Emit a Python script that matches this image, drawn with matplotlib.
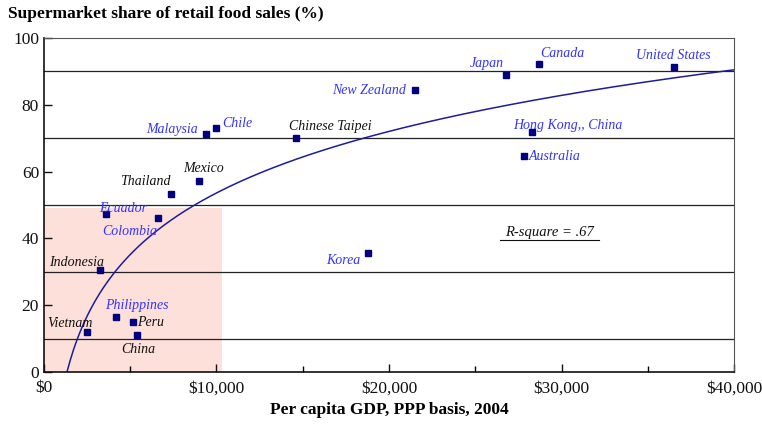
import matplotlib
matplotlib.use("Agg")
import matplotlib.pyplot as plt
import numpy as np
from matplotlib.patches import Rectangle

plt.rcParams['font.family'] = ['Liberation Serif', 'DejaVu Serif']

# per capita GDP (PPP, 2004) and supermarket share (%)
countries = ["Vietnam", "Indonesia", "Ecuador", "Colombia", "Philippines", "Peru", "China",
             "Thailand", "Mexico", "Malaysia", "Chile", "Chinese Taipei", "Korea",
             "New Zealand", "Japan", "Canada", "United States", "Hong Kong,, China", "Australia"]
gdp = [2490, 3250, 3600, 6600, 4170, 5160, 5400,
       7360, 8990, 9400, 9970, 14600, 18800,
       21500, 26800, 28700, 36500, 28300, 27800]
share = [12.0, 30.5, 47.3, 46.1, 16.5, 15.0, 11.1,
         53.3, 57.2, 71.3, 73.1, 70.1, 35.6,
         84.4, 88.9, 92.2, 91.3, 71.9, 64.7]
blue_label = [False, False, True, True, True, False, False,
              False, False, True, True, False, True,
              True, True, True, True, True, True]

# log trend line: y = b * ln(x / x0)
trend_b = 26.6
trend_x0 = 1333

# label offsets in pixels (text centre relative to marker)
label_dx = [-17, -23, 17, -28, 21, 18, 1, -26, 4, -34, 21, 34, -25, -46, -19, 23, 0, 36, 31]
label_dy = [8, 8, 6, -13, 11, -1, -15, 12, 12, 4, 4, 11, -7, 0, 12, 11, 12, 6, -1]

fig = plt.figure(figsize=(7.62, 4.28), dpi=100)
ax = fig.add_axes([0.0577, 0.1308, 0.9056, 0.7804])

ax.add_patch(Rectangle((0, 0), 10300, 49, facecolor='#fde0da', edgecolor='none', zorder=0))

for yv in [10, 30, 50, 70, 90]:
    ax.axhline(yv, color='#222222', lw=0.9, zorder=1)

xs = np.linspace(trend_x0, 40000, 400)
ax.plot(xs, trend_b * np.log(xs / trend_x0), color='#1c1c9c', lw=1.1, zorder=2)

ax.plot(gdp, share, 's', color='#000080', ms=4, zorder=3, linestyle='none')

for i, name in enumerate(countries):
    col = '#3333ff' if blue_label[i] else '#111111'
    ax.annotate(name, (gdp[i], share[i]), xytext=(label_dx[i], label_dy[i]),
                textcoords='offset pixels', ha='center', va='center',
                fontsize=10, style='italic', color=col, zorder=4)

ax.text(29300, 41.8, "R-square = .67", fontsize=10.5, style='italic', ha='center',
        va='center', color='#111111')
ax.plot([26450, 32150], [39.4, 39.4], color='#111111', lw=0.8)

ax.set_xlim(0, 40000)
ax.set_ylim(0, 100)
ax.set_xticks([0, 10000, 20000, 30000, 40000])
ax.set_xticklabels(["$0", "$10,000", "$20,000", "$30,000", "$40,000"])
ax.set_xticks([5000, 15000, 25000, 35000], minor=True)
ax.set_yticks([0, 20, 40, 60, 80, 100])
ax.tick_params(axis='both', direction='in', labelsize=12.5, length=6, width=1, colors='#111111')
ax.tick_params(axis='x', which='minor', direction='in', length=4, width=1)
ax.tick_params(axis='x', pad=6)

for s in ['top', 'right']:
    ax.spines[s].set_color('#555555')
for s in ['left', 'bottom']:
    ax.spines[s].set_color('#111111')
    ax.spines[s].set_linewidth(1.2)

fig.text(8 / 762, 1 - 14 / 428, "Supermarket share of retail food sales (%)",
         fontsize=12.5, fontweight='bold', ha='left', va='center')
ax.set_xlabel("Per capita GDP, PPP basis, 2004", fontsize=12.5, fontweight='bold', labelpad=4)

fig.savefig("out.png", dpi=100)
